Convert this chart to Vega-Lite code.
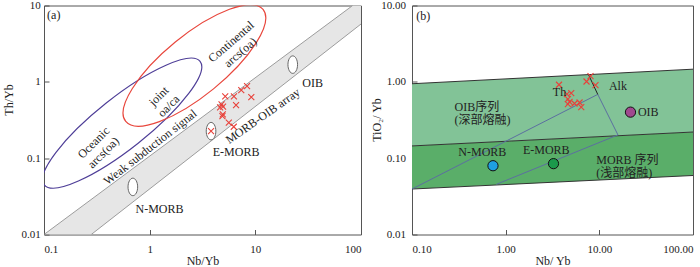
{
  "$schema": "https://vega.github.io/schema/vega-lite/v6.json",
  "padding": {"left": 1, "top": -1.5, "right": 0, "bottom": 0},
  "spacing": 51,
  "bounds": "flush",
  "config": {
    "font": "Liberation Serif",
    "view": {"stroke": "#555", "strokeWidth": 1},
    "axis": {"domain": false, "grid": false, "tickSize": -5, "tickColor": "#555", "labelFontSize": 11, "titleFontSize": 12, "titleFontWeight": "normal", "labelColor": "#222", "titleColor": "#222"}
  },
  "datasets": {
    "bandA": [{"nb": 0.1, "v": 0.01, "v2": 0.01}, {"nb": 0.28, "v": 0.01, "v2": 0.0288}, {"nb": 83.4, "v": 4.7, "v2": 10}, {"nb": 100, "v": 5.72, "v2": 10}],
    "edgesA": [{"nb": 0.1, "v": 0.01, "nb2": 83.4, "v2": 10}, {"nb": 0.28, "v": 0.01, "nb2": 100, "v2": 5.72}],
    "oceanic": [{"nb": 0.5495, "v": 0.288}],
    "continental": [{"nb": 2.651, "v": 1.639}],
    "refA": [{"name": "N-MORB", "nb": 0.693, "v": 0.042}, {"name": "E-MORB", "nb": 3.81, "v": 0.226}, {"name": "OIB", "nb": 22.6, "v": 1.68}],
    "crossA": [{"nb": 5.19, "v": 0.645}, {"nb": 6.27, "v": 0.646}, {"nb": 7.36, "v": 0.78}, {"nb": 8.35, "v": 0.88}, {"nb": 9.16, "v": 0.631}, {"nb": 6.57, "v": 0.496}, {"nb": 4.79, "v": 0.508}, {"nb": 4.64, "v": 0.463}, {"nb": 4.95, "v": 0.474}, {"nb": 4.92, "v": 0.375}, {"nb": 4.88, "v": 0.356}, {"nb": 5.61, "v": 0.292}, {"nb": 6.25, "v": 0.258}, {"nb": 3.81, "v": 0.226}],
    "bandUpper": [{"nb": 0.1, "v": 0.1446, "v2": 0.944}, {"nb": 100, "v": 0.22, "v2": 1.465}],
    "bandLower": [{"nb": 0.1, "v": 0.0394, "v2": 0.1446}, {"nb": 100, "v": 0.0593, "v2": 0.22}],
    "edgesB": [{"nb": 0.1, "v": 0.944, "nb2": 100, "v2": 1.465}, {"nb": 0.1, "v": 0.1446, "nb2": 100, "v2": 0.22}, {"nb": 0.1, "v": 0.0394, "nb2": 100, "v2": 0.0593}],
    "blueB": [{"nb": 0.1, "v": 0.0394, "nb2": 9.62, "v2": 0.685}, {"nb": 0.794, "v": 0.0454, "nb2": 15.8, "v2": 0.2018}, {"nb": 9.62, "v": 0.685, "nb2": 15.8, "v2": 0.2018}],
    "alkB": [{"nb": 7.67, "v": 1.24, "nb2": 9.62, "v2": 0.685}],
    "circB": [{"name": "N-MORB", "nb": 0.732, "v": 0.0796}, {"name": "E-MORB", "nb": 3.24, "v": 0.0848}, {"name": "OIB", "nb": 21.5, "v": 0.401}],
    "crossB": [{"nb": 3.71, "v": 0.916}, {"nb": 4.51, "v": 0.692}, {"nb": 5.01, "v": 0.713}, {"nb": 4.62, "v": 0.594}, {"nb": 4.81, "v": 0.548}, {"nb": 4.62, "v": 0.511}, {"nb": 5.43, "v": 0.52}, {"nb": 6.15, "v": 0.536}, {"nb": 6.41, "v": 0.467}, {"nb": 7.3, "v": 1.01}, {"nb": 8.05, "v": 1.19}, {"nb": 9.1, "v": 0.908}]
  },
  "hconcat": [
    {
      "width": 317,
      "height": 229,
      "encoding": {
        "x": {"field": "nb", "type": "quantitative", "title": "Nb/Yb", "scale": {"type": "log", "domain": [0.1, 100], "nice": false}, "axis": {"values": [0.1, 1, 10, 100], "format": "~g", "labelPadding": 14, "titleY": 26, "titleBaseline": "middle"}},
        "y": {"field": "v", "type": "quantitative", "title": "Th/Yb", "scale": {"type": "log", "domain": [0.01, 10], "nice": false}, "axis": {"values": [0.01, 0.1, 1, 10], "format": "~g", "labelPadding": 8.7, "titleX": -35.7, "titleY": 94, "titleBaseline": "middle", "titleAlign": "center", "titleAngle": 270}}
      },
      "layer": [
        {"data": {"name": "bandA"}, "mark": {"type": "area", "color": "#e6e6e6", "clip": true}, "encoding": {"y2": {"field": "v2"}}},
        {"data": {"name": "edgesA"}, "mark": {"type": "rule", "color": "#9c9c9c", "strokeWidth": 1, "clip": true}, "encoding": {"x2": {"field": "nb2"}, "y2": {"field": "v2"}}},
        {"data": {"name": "oceanic"}, "mark": {"type": "point", "shape": "M-1,0A1,0.2585 0 1,1 1,0A1,0.2585 0 1,1 -1,0Z", "size": 39521, "angle": 321.6, "filled": false, "stroke": "#4f3f98", "strokeWidth": 1.2, "opacity": 1, "clip": true}},
        {"data": {"name": "continental"}, "mark": {"type": "point", "shape": "M-1,0A1,0.341 0 1,1 1,0A1,0.341 0 1,1 -1,0Z", "size": 31400, "angle": 320.8, "filled": false, "stroke": "#e8473d", "strokeWidth": 1.2, "opacity": 1, "clip": true}},
        {"data": {"name": "refA"}, "mark": {"type": "point", "shape": "M0,-1A0.55,1 0 1,1 0,1A0.55,1 0 1,1 0,-1Z", "size": 306, "filled": true, "fill": "white", "stroke": "#666", "strokeWidth": 1, "opacity": 1}},
        {"data": {"name": "crossA"}, "mark": {"type": "point", "shape": "M-1,-1L1,1M-1,1L1,-1", "size": 36, "filled": false, "stroke": "#e8413a", "strokeWidth": 1.1, "opacity": 1}},
        {"data": {"values": [{"nb": 0.107, "v": 7.51, "label": "(a)"}]}, "mark": {"type": "text", "align": "left", "baseline": "middle", "fontSize": 12, "color": "#222"}, "encoding": {"text": {"field": "label"}}},
        {"data": {"values": [{"nb": 1.238, "v": 0.0219, "label": "N-MORB"}, {"nb": 6.57, "v": 0.1211, "label": "E-MORB"}, {"nb": 34.9, "v": 0.972, "label": "OIB"}]}, "mark": {"type": "text", "align": "center", "baseline": "middle", "fontSize": 12, "color": "#222"}, "encoding": {"text": {"field": "label"}}},
        {"data": {"values": [{"nb": 1.011, "v": 0.1396, "label": "Weak subduction signal"}]}, "mark": {"type": "text", "align": "center", "baseline": "middle", "fontSize": 12, "angle": 322, "color": "#222"}, "encoding": {"text": {"field": "label"}}},
        {"data": {"values": [{"nb": 11.75, "v": 0.358, "label": "MORB-OIB array"}]}, "mark": {"type": "text", "align": "center", "baseline": "middle", "fontSize": 12, "angle": 325, "color": "#222"}, "encoding": {"text": {"field": "label"}}},
        {"data": {"values": [{"nb": 0.2938, "v": 0.16, "label": "Oceanic\narcs(oa)"}, {"nb": 1.216, "v": 0.651, "label": "joint\noa/ca"}]}, "mark": {"type": "text", "align": "center", "baseline": "middle", "fontSize": 12, "angle": 315, "lineBreak": "\n", "lineHeight": 14, "color": "#222"}, "encoding": {"text": {"field": "label"}}},
        {"data": {"values": [{"nb": 5.89, "v": 3.354, "label": "Continental\narcs(oa)"}]}, "mark": {"type": "text", "align": "center", "baseline": "middle", "fontSize": 12, "angle": 319, "lineBreak": "\n", "lineHeight": 14, "color": "#222"}, "encoding": {"text": {"field": "label"}}}
      ]
    },
    {
      "width": 281,
      "height": 229,
      "encoding": {
        "x": {"field": "nb", "type": "quantitative", "title": "Nb/ Yb", "scale": {"type": "log", "domain": [0.1, 100], "nice": false}, "axis": {"values": [0.1, 1, 10, 100], "format": ".2f", "labelPadding": 14, "titleY": 26, "titleBaseline": "middle"}},
        "y": {"field": "v", "type": "quantitative", "title": "TiO₂/ Yb", "scale": {"type": "log", "domain": [0.01, 10], "nice": false}, "axis": {"values": [0.01, 0.1, 1, 10], "format": ".2f", "labelPadding": 11.4, "titleX": -35.7, "titleY": 114, "titleBaseline": "middle", "titleAlign": "center", "titleAngle": 270}}
      },
      "layer": [
        {"data": {"name": "bandUpper"}, "mark": {"type": "area", "color": "#82c397", "clip": true}, "encoding": {"y2": {"field": "v2"}}},
        {"data": {"name": "bandLower"}, "mark": {"type": "area", "color": "#5aae69", "clip": true}, "encoding": {"y2": {"field": "v2"}}},
        {"data": {"name": "edgesB"}, "mark": {"type": "rule", "color": "#333", "strokeWidth": 1, "clip": true}, "encoding": {"x2": {"field": "nb2"}, "y2": {"field": "v2"}}},
        {"data": {"name": "blueB"}, "mark": {"type": "rule", "color": "#5c6fa0", "strokeWidth": 1, "clip": true}, "encoding": {"x2": {"field": "nb2"}, "y2": {"field": "v2"}}},
        {"data": {"name": "alkB"}, "mark": {"type": "rule", "color": "#222", "strokeWidth": 1, "clip": true}, "encoding": {"x2": {"field": "nb2"}, "y2": {"field": "v2"}}},
        {"data": {"name": "circB"}, "mark": {"type": "point", "shape": "circle", "size": 105, "filled": true, "stroke": "#111", "strokeWidth": 1, "opacity": 1}, "encoding": {"color": {"field": "name", "type": "nominal", "legend": null, "scale": {"domain": ["N-MORB", "E-MORB", "OIB"], "range": ["#1e9fe0", "#1b9a4b", "#a0498f"]}}}},
        {"data": {"name": "crossB"}, "mark": {"type": "point", "shape": "M-1,-1L1,1M-1,1L1,-1", "size": 36, "filled": false, "stroke": "#e8413a", "strokeWidth": 1.1, "opacity": 1}},
        {"data": {"values": [{"nb": 0.111, "v": 7.39, "label": "(b)"}, {"nb": 0.285, "v": 0.471, "label": "OIB序列\n(深部熔融)"}, {"nb": 9.27, "v": 0.0955, "label": "MORB 序列\n(浅部熔融)"}]}, "mark": {"type": "text", "align": "left", "baseline": "middle", "fontSize": 12, "lineBreak": "\n", "lineHeight": 13, "font": "Liberation Serif, Noto Sans CJK SC", "color": "#222"}, "encoding": {"text": {"field": "label"}}},
        {"data": {"values": [{"nb": 3.76, "v": 0.726, "label": "Th"}, {"nb": 15.8, "v": 0.888, "label": "Alk"}, {"nb": 33.3, "v": 0.401, "label": "OIB"}, {"nb": 0.563, "v": 0.1195, "label": "N-MORB"}, {"nb": 2.71, "v": 0.128, "label": "E-MORB"}]}, "mark": {"type": "text", "align": "center", "baseline": "middle", "fontSize": 12, "color": "#222"}, "encoding": {"text": {"field": "label"}}}
      ]
    }
  ]
}
